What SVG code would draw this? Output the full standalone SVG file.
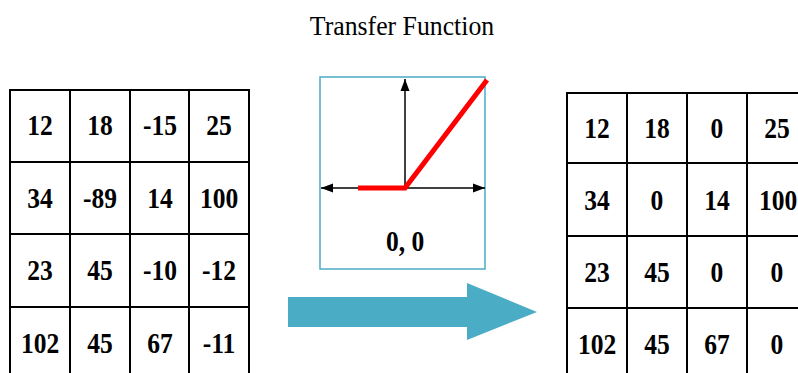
<svg xmlns="http://www.w3.org/2000/svg" width="798" height="373" viewBox="0 0 798 373">
<defs>
<style>
.grid{fill:#fff;stroke:#000;stroke-width:2}
.num{font-family:"Liberation Serif","Times New Roman",serif;font-weight:bold;font-size:29px;text-anchor:middle;fill:#000}
.title{font-family:"Liberation Serif","Times New Roman",serif;font-size:28px;text-anchor:middle;fill:#000}
.axis{stroke:#000;stroke-width:1.5;fill:none}
</style>
<marker id="ah" viewBox="0 0 12 10" refX="12" refY="5" markerWidth="12" markerHeight="10" markerUnits="userSpaceOnUse" orient="auto">
<path d="M0,0.5 L12,5 L0,9.5 Z" fill="#000"/>
</marker>
</defs>
<rect width="798" height="373" fill="#fff"/>

<g id="input-matrix">
<rect class="grid" x="10" y="90" width="239" height="295"/>
<path class="grid" d="M70,90V385M130,90V385M189,90V385M10,162H249M10,234H249M10,307H249"/>
<text class="num" transform="translate(40 135) scale(0.88 1)">12</text>
<text class="num" transform="translate(100 135) scale(0.88 1)">18</text>
<text class="num" transform="translate(160 135) scale(0.88 1)">-15</text>
<text class="num" transform="translate(219 135) scale(0.88 1)">25</text>
<text class="num" transform="translate(40 208) scale(0.88 1)">34</text>
<text class="num" transform="translate(100 208) scale(0.88 1)">-89</text>
<text class="num" transform="translate(160 208) scale(0.88 1)">14</text>
<text class="num" transform="translate(219 208) scale(0.88 1)">100</text>
<text class="num" transform="translate(40 280) scale(0.88 1)">23</text>
<text class="num" transform="translate(100 280) scale(0.88 1)">45</text>
<text class="num" transform="translate(160 280) scale(0.88 1)">-10</text>
<text class="num" transform="translate(219 280) scale(0.88 1)">-12</text>
<text class="num" transform="translate(40 353) scale(0.88 1)">102</text>
<text class="num" transform="translate(100 353) scale(0.88 1)">45</text>
<text class="num" transform="translate(160 353) scale(0.88 1)">67</text>
<text class="num" transform="translate(219 353) scale(0.88 1)">-11</text>
</g>

<g id="transfer-function">
<text class="title" transform="translate(402 35) scale(0.92 1)">Transfer Function</text>
<rect x="320" y="77" width="165" height="192" fill="#fff" stroke="#4BACC6" stroke-width="1.5"/>
<line class="axis" x1="405" y1="188" x2="405" y2="79" marker-end="url(#ah)"/>
<line class="axis" x1="405" y1="188" x2="321" y2="188" marker-end="url(#ah)"/>
<line class="axis" x1="405" y1="188" x2="485" y2="188" marker-end="url(#ah)"/>
<polyline points="358,188 405,188 487,80" fill="none" stroke="#FF0000" stroke-width="5"/>
<text class="num" transform="translate(405 251) scale(0.88 1)">0, 0</text>
</g>

<g id="connectors">
<polygon points="288,297 467,297 467,283 537,312 467,340 467,327 288,327" fill="#4BACC6"/>
</g>

<g id="output-matrix">
<rect class="grid" x="567" y="93" width="242" height="295"/>
<path class="grid" d="M627,93V388M687,93V388M747,93V388M567,163H809M567,236H809M567,308H809"/>
<text class="num" transform="translate(597 138) scale(0.88 1)">12</text>
<text class="num" transform="translate(657 138) scale(0.88 1)">18</text>
<text class="num" transform="translate(717 138) scale(0.88 1)">0</text>
<text class="num" transform="translate(777 138) scale(0.88 1)">25</text>
<text class="num" transform="translate(597 210) scale(0.88 1)">34</text>
<text class="num" transform="translate(657 210) scale(0.88 1)">0</text>
<text class="num" transform="translate(717 210) scale(0.88 1)">14</text>
<text class="num" transform="translate(778 210) scale(0.88 1)">100</text>
<text class="num" transform="translate(597 282) scale(0.88 1)">23</text>
<text class="num" transform="translate(657 282) scale(0.88 1)">45</text>
<text class="num" transform="translate(717 282) scale(0.88 1)">0</text>
<text class="num" transform="translate(777 282) scale(0.88 1)">0</text>
<text class="num" transform="translate(597 354) scale(0.88 1)">102</text>
<text class="num" transform="translate(657 354) scale(0.88 1)">45</text>
<text class="num" transform="translate(717 354) scale(0.88 1)">67</text>
<text class="num" transform="translate(777 354) scale(0.88 1)">0</text>
</g>
</svg>
